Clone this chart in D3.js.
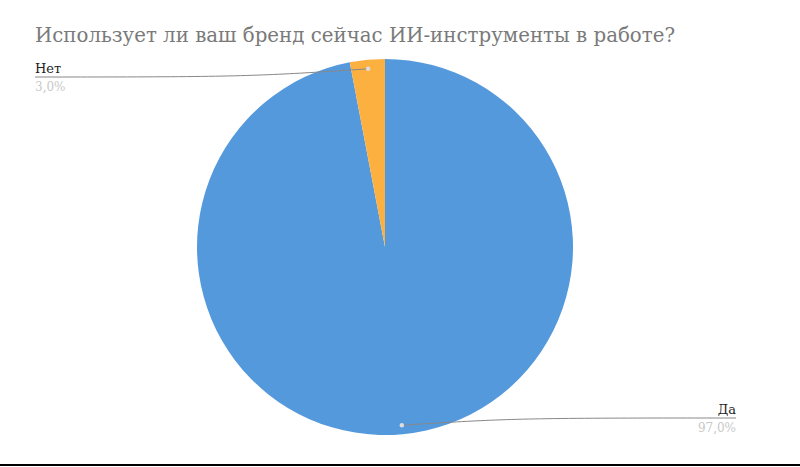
<!DOCTYPE html>
<html><head><meta charset="utf-8">
<script src="https://cdn.jsdelivr.net/npm/d3@7"></script>
<style>body{margin:0;background:#fff}svg{display:block}text{font-family:'DejaVu Serif','Liberation Serif',serif}</style>
</head><body>
<script>
const title = "Использует ли ваш бренд сейчас ИИ-инструменты в работе?";
const categories = ["Да", "Нет"];
const values = [97.0, 3.0];
const colors = ["#5599DD", "#FBB040"];
const labelTexts = ["97,0%", "3,0%"];

const W = 800, H = 467;
const svg = d3.select("body").append("svg").attr("width", W).attr("height", H);
svg.append("rect").attr("width", W).attr("height", H).attr("fill", "#fff");

svg.append("text").attr("x", 35).attr("y", 42)
  .attr("font-size", 19.8)
  .attr("fill", "#7a7a7a").text(title);

const cx = 385, cy = 247, R = 188;
const data = categories.map((c, i) => ({cat: c, val: values[i], color: colors[i], pct: labelTexts[i]}));
const pie = d3.pie().sort(null).value(d => d.val);
const arcs = pie(data);
const arc = d3.arc().innerRadius(0).outerRadius(R);
const g = svg.append("g").attr("transform", `translate(${cx},${cy})`);
g.selectAll("path").data(arcs).join("path")
  .attr("d", arc).attr("fill", d => d.data.color);

const dotR = 179;
const labelPos = {
  "Да": {x: 736, y: 418, anchor: "end", elbowX: 560},
  "Нет": {x: 35, y: 77, anchor: "start", elbowX: 200}
};
arcs.forEach(a => {
  const mid = (a.startAngle + a.endAngle) / 2;
  const px = cx + dotR * Math.sin(mid), py = cy - dotR * Math.cos(mid);
  const lp = labelPos[a.data.cat];
  svg.append("path")
    .attr("d", d3.line().curve(d3.curveBasis)([[px, py], [(px + lp.elbowX) / 2, py + (lp.y - py) * 0.7], [lp.elbowX, lp.y], [lp.x, lp.y]]))
    .attr("fill", "none").attr("stroke", "#888").attr("stroke-width", 1);
  svg.append("circle").attr("cx", px).attr("cy", py).attr("r", 2.2).attr("fill", "#ddd");
  svg.append("text").attr("x", lp.x).attr("y", lp.y - 4).attr("text-anchor", lp.anchor)
    .attr("font-size", 13).attr("fill", "#222")
    .text(a.data.cat);
  svg.append("text").attr("x", lp.x).attr("y", lp.y + 14).attr("text-anchor", lp.anchor)
    .attr("font-size", 12).attr("fill", "#c8c8c8")
    .text(a.data.pct);
});

svg.append("line").attr("x1", 0).attr("x2", W).attr("y1", 465).attr("y2", 465)
  .attr("stroke", "#000").attr("stroke-width", 2);
</script>
</body></html>
